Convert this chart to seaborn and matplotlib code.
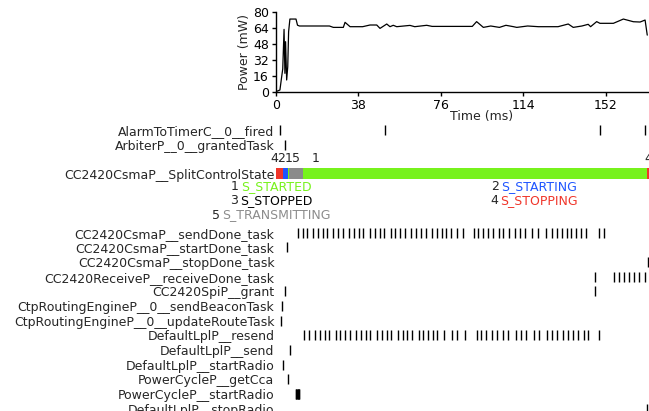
import matplotlib
matplotlib.use("Agg")
import matplotlib.pyplot as plt
import numpy as np
import pandas as pd
import seaborn as sns

# ---- power trace (ms, mW) ----
power_t = [0.0, 1.9, 2.7, 3.2, 3.8, 4.2, 4.5, 5.0, 5.5, 5.9, 6.5, 9.3, 10.0, 10.9,
           24.7, 26.5, 31.1, 31.9, 34.2, 40.0, 43.4, 46.5, 48.0, 51.1, 52.6, 54.1,
           55.7, 61.8, 64.0, 69.5, 72.0, 90.5, 92.5, 95.6, 99.0, 103.0, 106.0,
           109.5, 111.0, 116.0, 121.0, 130.0, 134.7, 137.0, 141.0, 143.9, 145.0,
           147.8, 149.3, 155.5, 160.1, 164.7, 167.8, 170.1, 171.1]
power_mw = [0.0, 1.7, 15.0, 23.0, 62.8, 18.5, 50.4, 11.8, 25.0, 60.5, 73.2, 73.2, 67.0, 66.2,
            66.2, 64.8, 64.8, 69.9, 65.5, 65.5, 67.2, 67.2, 63.8, 68.2, 65.5, 66.9,
            65.5, 66.8, 65.5, 66.9, 65.8, 65.8, 70.6, 64.8, 66.2, 64.8, 66.9,
            65.5, 64.8, 66.2, 65.5, 65.5, 68.2, 64.8, 66.2, 67.9, 65.5,
            70.6, 68.9, 68.9, 73.2, 70.5, 70.2, 72.2, 57.0]

x_ticks = [0, 38, 76, 114, 152]
y_ticks = [0, 16, 32, 48, 64, 80]

# ---- event traces (ms) ----
alarm_fired = [1.9, 50.3, 149.3, 170.0]
arbiter_granted = [4.2]
send_done_task = [10.4, 12.5, 14.3, 17.2, 19.4, 21.6, 23.7, 26.5, 28.6, 30.8, 33.9,
                  36.0, 38.2, 40.3, 43.4, 45.6, 47.8, 49.9, 52.9, 55.1, 57.3, 59.4,
                  62.5, 64.6, 66.8, 69.0, 72.0, 74.2, 76.4, 78.5,
                  80.7, 83.3, 86.4, 91.3, 93.3, 95.6, 97.9, 100.2, 102.9, 104.8,
                  107.6, 110.2, 112.5, 114.8, 117.9, 120.9, 124.5, 127.1, 129.4,
                  131.7, 134.0, 135.8, 138.3, 140.4, 142.7, 148.9, 151.2]
start_done_task = [5.0]
stop_done_task = [171.6]
receive_done_task = [147.0, 156.0, 158.3, 160.6, 162.9, 165.2, 167.5, 170.0]
spi_grant = [4.2, 147.0]
send_beacon_task = [2.7]
update_route_task = [2.2]
lpl_resend = [13.0, 15.2, 18.0, 20.3, 22.5, 24.6, 27.6, 29.8, 32.0, 34.1, 37.1, 39.3,
              41.5, 43.6, 46.7, 48.8, 51.0, 53.2, 56.2, 58.4, 60.5, 62.7, 65.8, 67.9,
              70.1, 72.3, 74.4, 77.4,
              81.0, 83.6, 87.1, 92.5, 94.4, 96.8, 99.4, 101.7, 104.5, 107.1, 110.6,
              113.0, 115.3, 119.1, 121.4, 124.8, 127.3, 129.6, 132.1, 134.7, 137.0,
              139.3, 141.9, 143.9, 149.0]
lpl_send = [6.5]
lpl_start_radio = [3.2]
pc_get_cca = [5.8]
pc_start_radio = [9.1, 9.4, 9.7, 10.0, 10.3, 10.6, 10.8]
lpl_stop_radio = [170.8]

# ---- split-control state segments ----
state_start = [0.0, 3.5, 5.5, 6.2, 12.7, 170.8]
state_end = [3.5, 5.5, 6.2, 12.7, 170.8, 172.5]
state_code = [4, 2, 1, 5, 1, 4]
state_label_t = [-2.7, 0.8, 4.2, 7.6, 16.5, 170.0]
state_names = ["S_STARTED", "S_STARTING", "S_STOPPED", "S_STOPPING", "S_TRANSMITTING"]
state_colors = ["#77f21c", "#1f55ff", "#000000", "#f0352a", "#8c8c8c"]
bar_colors = ["#77f21c", "#1f55ff", "#000000", "#f0352a", "#8a8a8a"]
legend_t = [0.2, 121.4, 0.2, 121.4, 0.2]
legend_row = [3.87, 3.87, 4.84, 4.84, 5.80]

row_labels = [
    (0, "AlarmToTimerC__0__fired", alarm_fired),
    (1, "ArbiterP__0__grantedTask", arbiter_granted),
    (7, "CC2420CsmaP__sendDone_task", send_done_task),
    (8, "CC2420CsmaP__startDone_task", start_done_task),
    (9, "CC2420CsmaP__stopDone_task", stop_done_task),
    (10, "CC2420ReceiveP__receiveDone_task", receive_done_task),
    (11, "CC2420SpiP__grant", spi_grant),
    (12, "CtpRoutingEngineP__0__sendBeaconTask", send_beacon_task),
    (13, "CtpRoutingEngineP__0__updateRouteTask", update_route_task),
    (14, "DefaultLplP__resend", lpl_resend),
    (15, "DefaultLplP__send", lpl_send),
    (16, "DefaultLplP__startRadio", lpl_start_radio),
    (17, "PowerCycleP__getCca", pc_get_cca),
    (18, "PowerCycleP__startRadio", pc_start_radio),
    (19, "DefaultLplP__stopRadio", lpl_stop_radio),
]
split_row = 3
split_name = "CC2420CsmaP__SplitControlState"

sns.set_style("ticks")
plt.rcParams["font.family"] = ["DejaVu Sans"]
plt.rcParams["font.size"] = 9

W, H = 649, 411
fig = plt.figure(figsize=(W / 100, H / 100), dpi=100)

left_px, x_max = 275.8, 190.0
px_per_ms = 2.171
width_px = x_max * px_per_ms

# power panel
ax_p = fig.add_axes([left_px / W, 1 - 91.7 / H, width_px / W, 79.4 / H])
sns.lineplot(x=power_t, y=power_mw, color="black", linewidth=0.9, ax=ax_p)
ax_p.set_xlim(0, x_max)
ax_p.set_ylim(0, 80)
ax_p.set_xticks(x_ticks)
ax_p.set_yticks(y_ticks)
ax_p.set_xlabel("Time (ms)", fontsize=9, labelpad=-1)
ax_p.set_ylabel("Power (mW)", fontsize=9, labelpad=1)
ax_p.tick_params(axis="both", labelsize=9, length=3, width=1, pad=2, colors="black")
for s in ["top", "right"]:
    ax_p.spines[s].set_visible(False)
for s in ["left", "bottom"]:
    ax_p.spines[s].set_color("black")
    ax_p.spines[s].set_linewidth(1.0)

# event panel
row_px = 14.66
n_rows = 22
top_px = 130 - 0.5 * row_px
ax_e = fig.add_axes([left_px / W, 1 - (top_px + n_rows * row_px) / H,
                     width_px / W, n_rows * row_px / H])
ax_e.patch.set_alpha(0)
ax_e.set_xlim(0, x_max)
ax_e.set_ylim(n_rows - 0.5, -0.5)

ev = pd.DataFrame([(t, r) for r, _, ts in row_labels for t in ts], columns=["t", "row"])
sns.scatterplot(data=ev, x="t", y="row", marker="|", s=60, linewidth=1.0,
                color="black", ax=ax_e, legend=False, clip_on=False)

ax_e.barh([split_row] * len(state_code),
          [e - s for s, e in zip(state_start, state_end)],
          left=state_start, height=0.75,
          color=[bar_colors[c - 1] for c in state_code], linewidth=0)
for t, c in zip(state_label_t, state_code):
    ax_e.text(t, split_row - 1.05, str(c), ha="left", va="center", fontsize=9)

for i, (name, col) in enumerate(zip(state_names, state_colors)):
    txt = ax_e.text(legend_t[i], legend_row[i], name, color=col,
                    ha="center", va="center", fontsize=9)
    ax_e.annotate(str(i + 1), xy=(0, 0.5), xycoords=txt, xytext=(-1.5, 0),
                  textcoords="offset points", ha="right", va="center", fontsize=9)

ticks = [r for r, _, _ in row_labels] + [split_row]
labels = [n for _, n, _ in row_labels] + [split_name]
ax_e.set_yticks(ticks)
ax_e.set_yticklabels(labels, fontsize=9)
ax_e.tick_params(axis="y", length=0, pad=1)
ax_e.set_xticks([])
ax_e.set_xlabel("")
ax_e.set_ylabel("")
for s in ax_e.spines.values():
    s.set_visible(False)

fig.savefig("out.png", dpi=100)
